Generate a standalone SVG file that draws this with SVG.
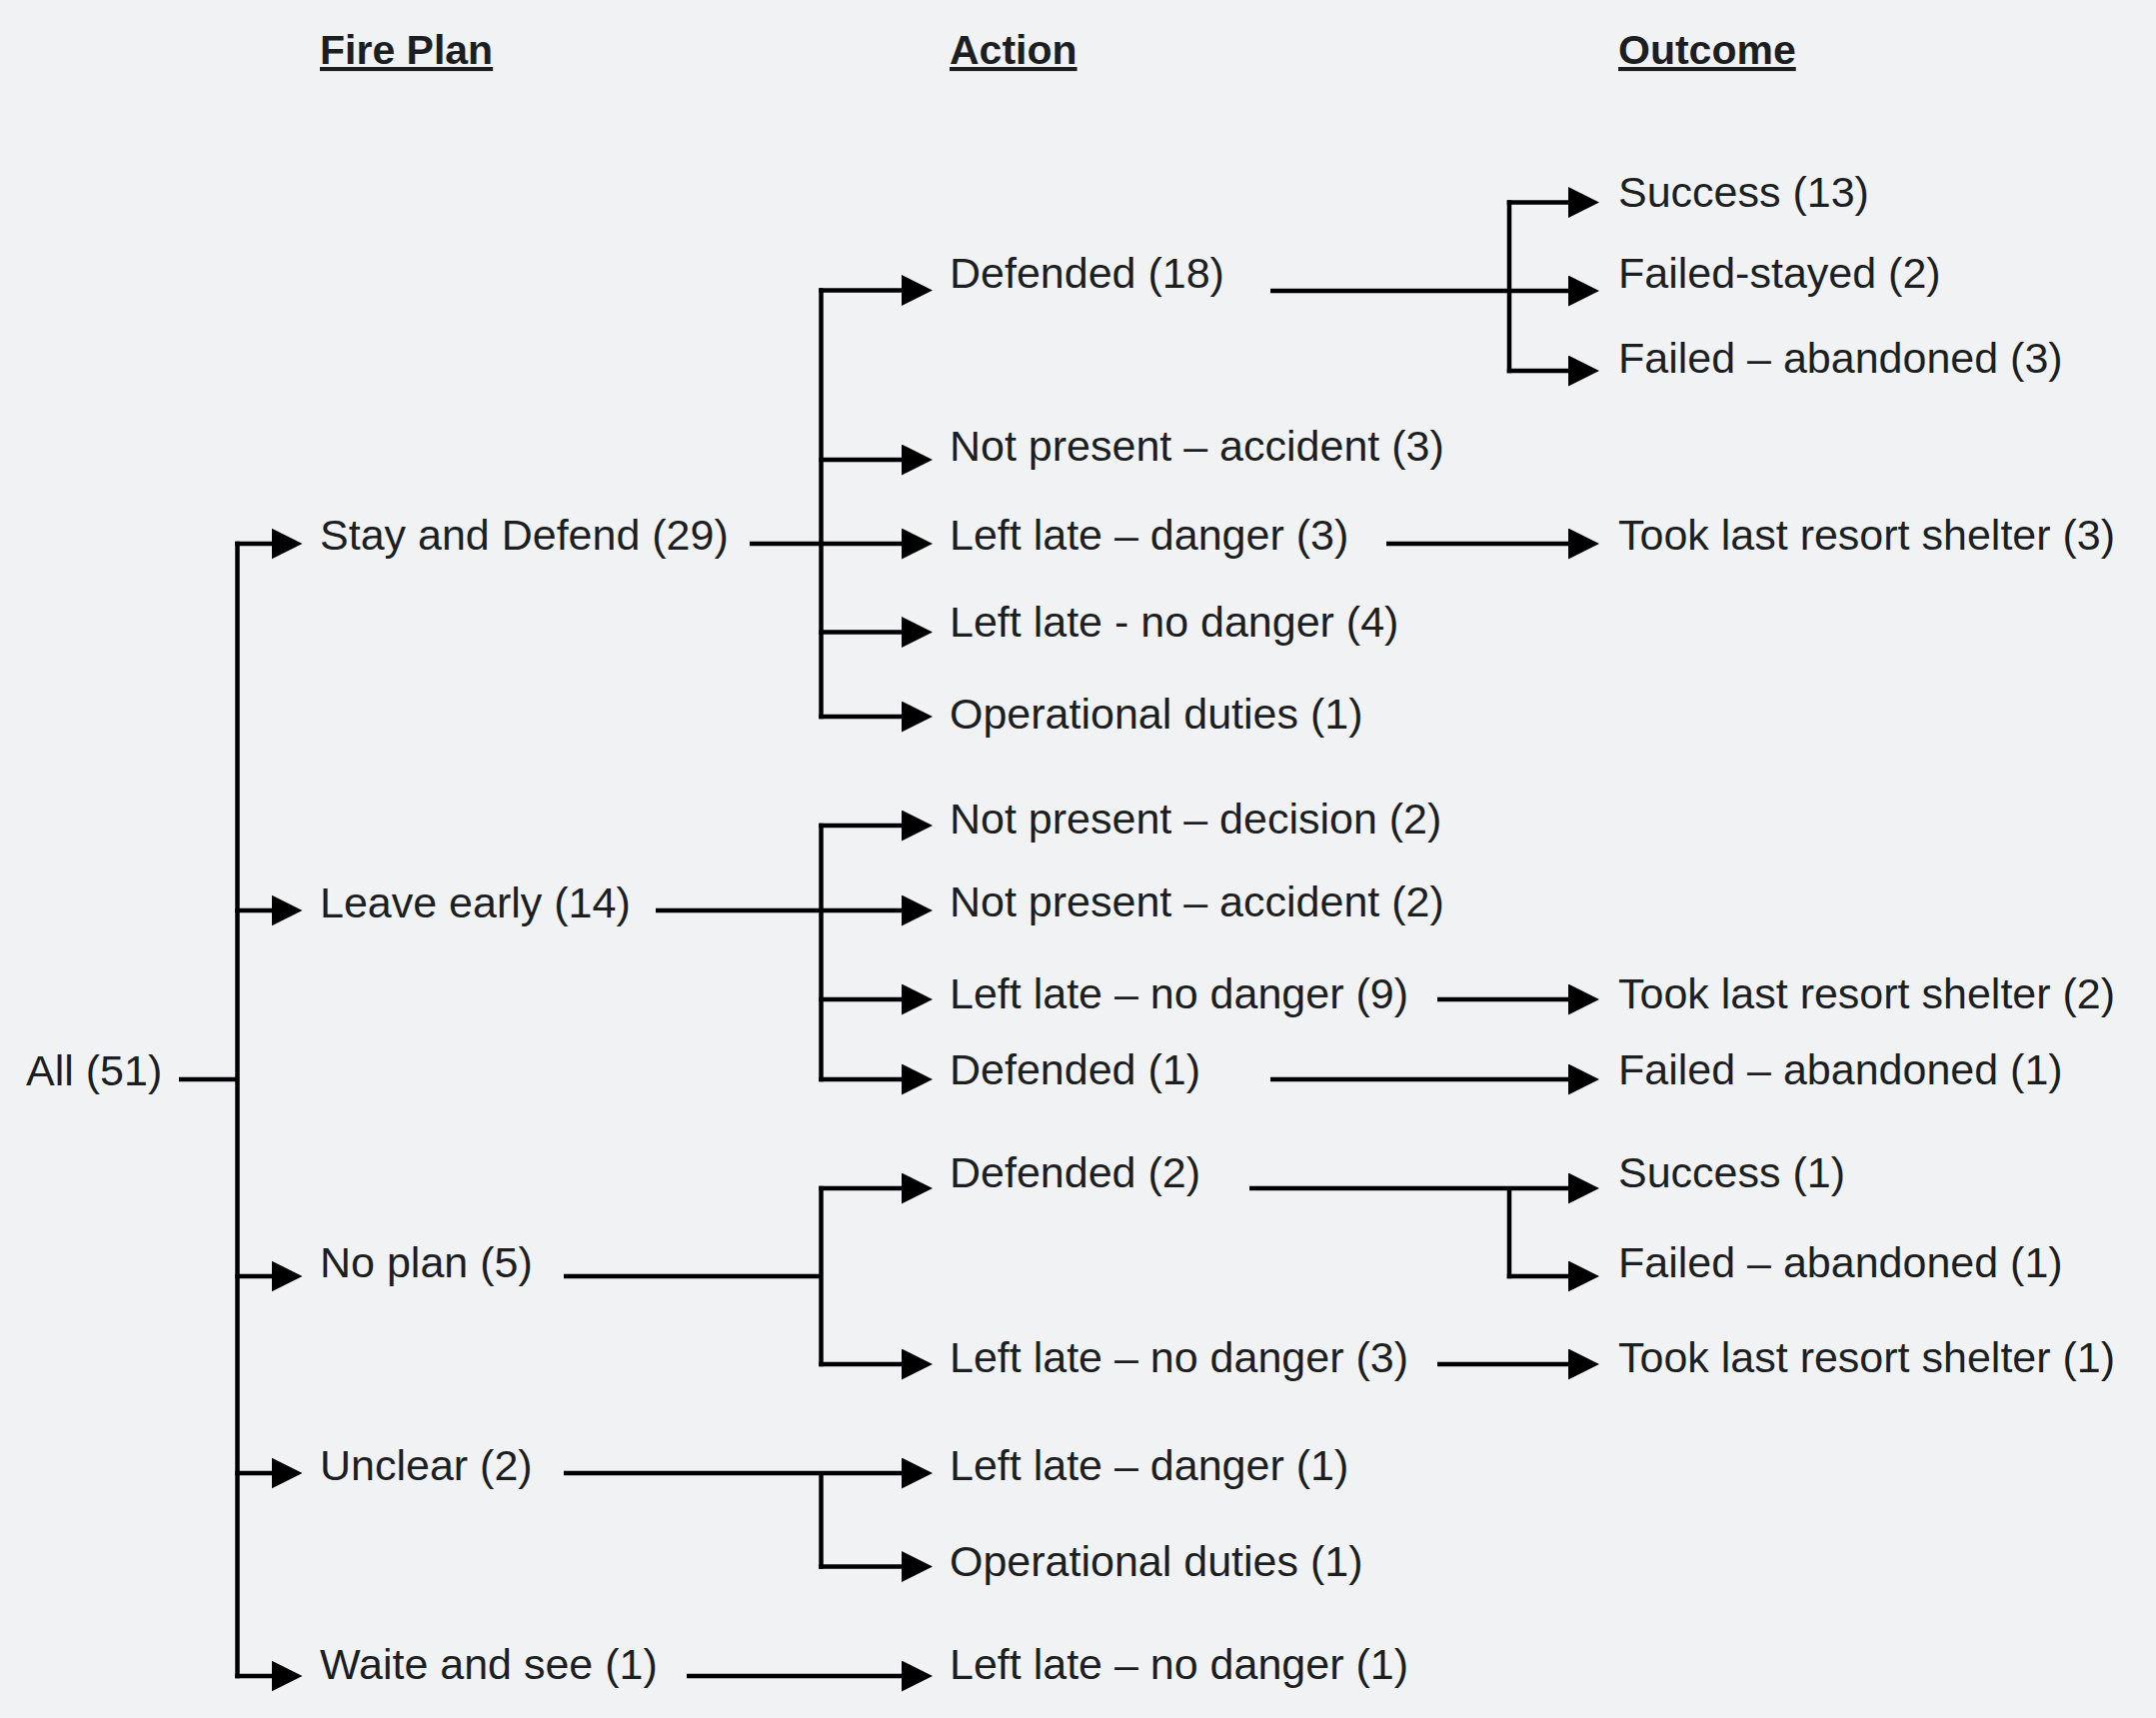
<svg xmlns="http://www.w3.org/2000/svg" width="2157" height="1719" viewBox="0 0 2157 1719">
<defs>
<style>
.t{font-family:"Liberation Sans",Arial,sans-serif;font-size:43px;fill:#1c1f22}
.h{font-family:"Liberation Sans",Arial,sans-serif;font-size:41px;font-weight:bold;fill:#1c1f22;text-decoration:underline}
.c line{stroke:#000;stroke-width:4.5;fill:none}
.a{marker-end:url(#arr)}
</style>
<marker id="arr" viewBox="0 0 31 31" refX="3" refY="15.5" markerWidth="31" markerHeight="31" markerUnits="userSpaceOnUse" orient="auto">
<path d="M0,0 L31,15.5 L0,31 Z" fill="#000"/>
</marker>
</defs>
<rect width="2157" height="1719" fill="#F1F2F4"/>

<g id="headers">
<text class="h" x="320" y="64">Fire Plan</text>
<text class="h" x="950" y="64">Action</text>
<text class="h" x="1619" y="64">Outcome</text>
</g>

<g id="connectors" class="c">
<!-- root -->
<line x1="179" y1="1080" x2="237.5" y2="1080"/>
<line x1="237.5" y1="541.75" x2="237.5" y2="1679.25"/>
<line class="a" x1="235.25" y1="544" x2="274.5" y2="544"/>
<line class="a" x1="235.25" y1="911" x2="274.5" y2="911"/>
<line class="a" x1="235.25" y1="1277" x2="274.5" y2="1277"/>
<line class="a" x1="235.25" y1="1474" x2="274.5" y2="1474"/>
<line class="a" x1="235.25" y1="1677" x2="274.5" y2="1677"/>
<!-- stay and defend -->
<line x1="750" y1="544" x2="821.5" y2="544"/>
<line x1="821.5" y1="288.25" x2="821.5" y2="719.25"/>
<line class="a" x1="819.25" y1="290.5" x2="905" y2="290.5"/>
<line class="a" x1="819.25" y1="460" x2="905" y2="460"/>
<line class="a" x1="819.25" y1="544" x2="905" y2="544"/>
<line class="a" x1="819.25" y1="632.5" x2="905" y2="632.5"/>
<line class="a" x1="819.25" y1="717" x2="905" y2="717"/>
<!-- leave early -->
<line x1="656" y1="911" x2="821.5" y2="911"/>
<line x1="821.5" y1="823.75" x2="821.5" y2="1082.25"/>
<line class="a" x1="819.25" y1="826" x2="905" y2="826"/>
<line class="a" x1="819.25" y1="911" x2="905" y2="911"/>
<line class="a" x1="819.25" y1="1000" x2="905" y2="1000"/>
<line class="a" x1="819.25" y1="1080" x2="905" y2="1080"/>
<!-- no plan -->
<line x1="564" y1="1277" x2="821.5" y2="1277"/>
<line x1="821.5" y1="1186.75" x2="821.5" y2="1367.25"/>
<line class="a" x1="819.25" y1="1189" x2="905" y2="1189"/>
<line class="a" x1="819.25" y1="1365" x2="905" y2="1365"/>
<!-- unclear -->
<line class="a" x1="564" y1="1474" x2="905" y2="1474"/>
<line x1="821.5" y1="1474" x2="821.5" y2="1569.75"/>
<line class="a" x1="819.25" y1="1567.5" x2="905" y2="1567.5"/>
<!-- waite and see -->
<line class="a" x1="687" y1="1677" x2="905" y2="1677"/>
<!-- outcomes -->
<line class="a" x1="1271" y1="291" x2="1572" y2="291"/>
<line x1="1510" y1="200.25" x2="1510" y2="373.25"/>
<line class="a" x1="1507.75" y1="202.5" x2="1572" y2="202.5"/>
<line class="a" x1="1507.75" y1="371" x2="1572" y2="371"/>
<line class="a" x1="1387" y1="544" x2="1572" y2="544"/>
<line class="a" x1="1438" y1="1000" x2="1572" y2="1000"/>
<line class="a" x1="1271" y1="1080" x2="1572" y2="1080"/>
<line class="a" x1="1250" y1="1189" x2="1572" y2="1189"/>
<line x1="1510" y1="1189" x2="1510" y2="1279.25"/>
<line class="a" x1="1507.75" y1="1277" x2="1572" y2="1277"/>
<line class="a" x1="1438" y1="1365" x2="1572" y2="1365"/>
</g>

<g id="all"><text class="t" x="26" y="1086">All (51)</text></g>

<g id="plan-stay"><text class="t" x="320" y="550">Stay and Defend (29)</text></g>
<g id="plan-leave"><text class="t" x="320" y="918">Leave early (14)</text></g>
<g id="plan-noplan"><text class="t" x="320" y="1278">No plan (5)</text></g>
<g id="plan-unclear"><text class="t" x="320" y="1481">Unclear (2)</text></g>
<g id="plan-waite"><text class="t" x="320" y="1680">Waite and see (1)</text></g>

<g id="act-defended18"><text class="t" x="950" y="288">Defended (18)</text></g>
<g id="act-notpresent3"><text class="t" x="950" y="461">Not present – accident (3)</text></g>
<g id="act-leftdanger3"><text class="t" x="950" y="550">Left late – danger (3)</text></g>
<g id="act-leftnodanger4"><text class="t" x="950" y="637">Left late - no danger (4)</text></g>
<g id="act-operational1a"><text class="t" x="950" y="729">Operational duties (1)</text></g>
<g id="act-notpresentdecision2"><text class="t" x="950" y="834">Not present – decision (2)</text></g>
<g id="act-notpresentaccident2"><text class="t" x="950" y="917">Not present – accident (2)</text></g>
<g id="act-leftnodanger9"><text class="t" x="950" y="1009">Left late – no danger (9)</text></g>
<g id="act-defended1"><text class="t" x="950" y="1085">Defended (1)</text></g>
<g id="act-defended2"><text class="t" x="950" y="1188">Defended (2)</text></g>
<g id="act-leftnodanger3"><text class="t" x="950" y="1373">Left late – no danger (3)</text></g>
<g id="act-leftdanger1"><text class="t" x="950" y="1481">Left late – danger (1)</text></g>
<g id="act-operational1b"><text class="t" x="950" y="1577">Operational duties (1)</text></g>
<g id="act-leftnodanger1"><text class="t" x="950" y="1680">Left late – no danger (1)</text></g>

<g id="out-success13"><text class="t" x="1619" y="207">Success (13)</text></g>
<g id="out-failedstayed2"><text class="t" x="1619" y="288">Failed-stayed (2)</text></g>
<g id="out-failedabandoned3"><text class="t" x="1619" y="373">Failed – abandoned (3)</text></g>
<g id="out-shelter3"><text class="t" x="1619" y="550">Took last resort shelter (3)</text></g>
<g id="out-shelter2"><text class="t" x="1619" y="1009">Took last resort shelter (2)</text></g>
<g id="out-failedabandoned1a"><text class="t" x="1619" y="1085">Failed – abandoned (1)</text></g>
<g id="out-success1"><text class="t" x="1619" y="1188">Success (1)</text></g>
<g id="out-failedabandoned1b"><text class="t" x="1619" y="1278">Failed – abandoned (1)</text></g>
<g id="out-shelter1"><text class="t" x="1619" y="1373">Took last resort shelter (1)</text></g>
</svg>
